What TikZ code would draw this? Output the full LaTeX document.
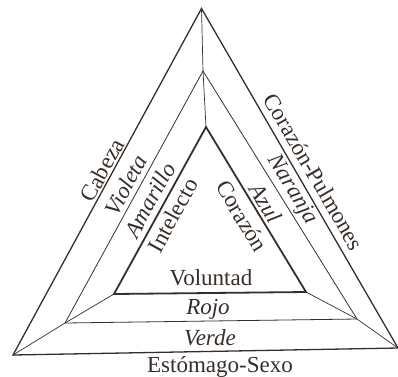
\documentclass[tikz,border=0pt]{standalone}
\usepackage{fontspec}
\setmainfont{Liberation Serif}
\usepackage{xcolor}
\usepackage{tikz}
\definecolor{ink}{RGB}{55,46,42}

\begin{document}
\begin{tikzpicture}[x=1pt, y=-1pt, every node/.style={text=ink, inner sep=0pt, font=\fontsize{23}{27}\selectfont}, side/.style={draw=ink, line join=miter}, spoke/.style={draw=ink, line width=0.7pt}]
    \useasboundingbox (0,0) rectangle (398,376);

    % vertices of the three triangles
    \coordinate (otop) at (201.5,8.5);
    \coordinate (obl) at (13,355);
    \coordinate (obr) at (398,348);
    \coordinate (mtop) at (203,71);
    \coordinate (mbl) at (65,323);
    \coordinate (mbr) at (357,319);
    \coordinate (itop) at (206,127);
    \coordinate (ibl) at (114,294);
    \coordinate (ibr) at (306,292);

    \draw[side, line width=1.3pt] (otop) -- (obr) -- (obl) -- cycle;
    \draw[side, line width=0.8pt] (mtop) -- (mbr) -- (mbl) -- cycle;
    \draw[side, line width=1.8pt] (itop) -- (ibr) -- (ibl) -- cycle;

    \draw[spoke] (otop) -- (mtop) -- (itop);
    \draw[spoke] (obl) -- (mbl) -- (ibl);
    \draw[spoke] (obr) -- (mbr) -- (ibr);

    % left side
    \node (cabeza) [rotate=61.4] at (102,170) {Cabeza};
    \node (violeta) [rotate=61.4] at (126,185) {\itshape Violeta};
    \node (amarillo) [rotate=61.2] at (150,200) {\itshape Amarillo};
    \node (intelecto) [rotate=61.1] at (173,215) {Intelecto};

    % right side
    \node (pulmones) [rotate=-59.9] at (314,172) {Corazón-Pulmones};
    \node (naranja) [rotate=-59] at (292,190) {\itshape Naranja};
    \node (azul) [rotate=-58.5] at (266,203) {\itshape Azul};
    \node (corazon) [rotate=-58.8] at (242,216) {Corazón};

    % bottom
    \node (voluntad) at (211,278) {Voluntad};
    \node (rojo) at (208,309) {\itshape Rojo};
    \node (verde) at (210,338) {\itshape Verde};
    \node (estomago) at (220,367) {Estómago-Sexo};
\end{tikzpicture}
\end{document}
